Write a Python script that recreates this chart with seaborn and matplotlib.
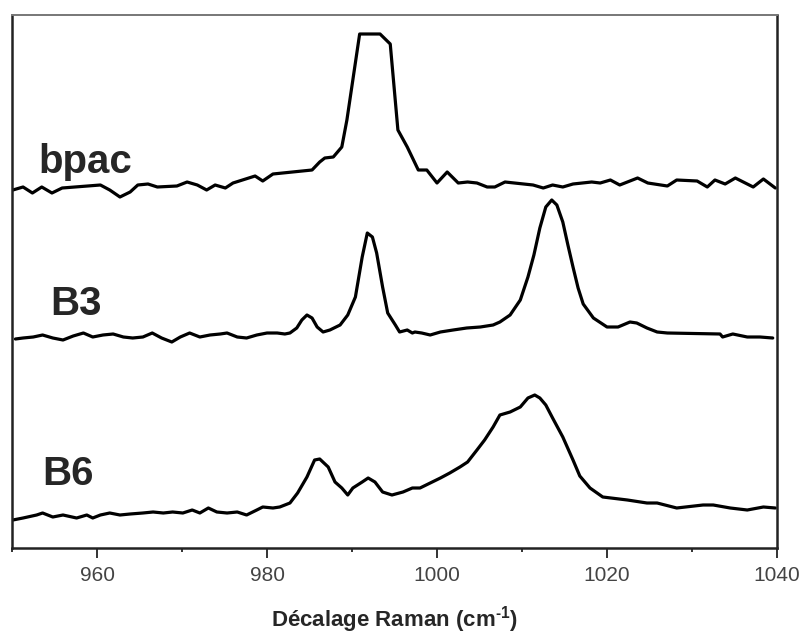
import pandas as pd
import matplotlib
matplotlib.use("Agg")
import matplotlib.pyplot as plt
import seaborn as sns

# -------------------------
# DATA (offset spectra, a.u.)
# -------------------------
bpac_x = [950.1, 951.3, 952.4, 953.5, 954.7, 955.9, 960.4, 961.5, 962.7, 963.9,
          964.8, 966.0, 967.1, 969.4, 970.6, 971.8, 972.9, 973.9, 975.1, 976.0,
          978.6, 979.5, 980.7, 985.3, 986.2, 986.8, 987.8, 988.8, 989.4, 990.9,
          993.3, 994.5, 995.4, 996.5, 997.8, 998.8, 1000.0, 1001.2, 1002.5, 1003.6,
          1004.7, 1005.9, 1006.8, 1008.0, 1011.3, 1012.5, 1013.6, 1014.8, 1016.0, 1018.2,
          1019.2, 1020.4, 1021.5, 1023.6, 1024.8, 1027.1, 1028.2, 1030.6, 1031.8, 1032.7,
          1033.9, 1035.1, 1037.2, 1038.4, 1039.8]
bpac_y = [358, 361, 355, 361, 355, 360, 363, 358, 351, 356,
          363, 364, 361, 362, 366, 363, 358, 363, 360, 365,
          372, 367, 374, 378, 386, 390, 391, 401, 428, 514,
          514, 504, 418, 401, 378, 378, 365, 376, 365, 366,
          365, 361, 361, 366, 363, 360, 363, 361, 364, 366,
          365, 368, 363, 370, 365, 362, 368, 367, 361, 368,
          364, 370, 361, 369, 360]

b3_x = [950.4, 951.3, 952.5, 953.6, 954.8, 956.0, 957.2, 958.4, 959.5, 960.7,
        961.9, 963.1, 964.2, 965.4, 966.5, 967.6, 968.8, 969.8, 970.9, 972.1,
        973.3, 974.5, 975.3, 976.5, 977.6, 978.8, 980.0, 981.2, 982.1, 982.7,
        983.5, 984.1, 984.7, 985.3, 985.9, 986.6, 987.4, 988.6, 989.5, 990.4,
        991.2, 991.8, 992.4, 992.9, 993.6, 994.2, 995.1, 995.6, 996.5, 997.1,
        997.4, 998.2, 999.2, 1000.4, 1001.9, 1003.5, 1005.1, 1006.6, 1007.4, 1008.6,
        1009.8, 1010.7, 1011.4, 1012.1, 1012.8, 1013.5, 1014.1, 1014.8, 1015.4, 1016.0,
        1016.6, 1017.2, 1018.4, 1020.0, 1021.3, 1022.7, 1023.5, 1024.7, 1025.9, 1027.1,
        1033.3, 1033.6, 1034.8, 1036.5, 1038.0, 1039.5]
b3_y = [209, 210, 211, 213, 210, 208, 212, 215, 211, 213,
        214, 211, 210, 211, 215, 210, 206, 211, 215, 211,
        213, 214, 215, 211, 210, 213, 215, 215, 214, 215,
        220, 228, 233, 230, 221, 216, 218, 223, 233, 251,
        291, 315, 311, 295, 261, 235, 223, 216, 218, 215,
        216, 215, 213, 216, 218, 220, 221, 223, 226, 233,
        248, 271, 293, 320, 341, 348, 343, 326, 303, 281,
        260, 244, 230, 221, 221, 226, 225, 220, 216, 215,
        214, 211, 214, 211, 211, 210]

b6_x = [950.1, 951.3, 952.9, 953.6, 954.8, 956.0, 957.6, 958.8, 959.5, 960.4,
        961.5, 962.7, 963.9, 965.4, 966.6, 967.8, 968.9, 970.1, 971.2, 972.1,
        973.1, 974.1, 975.3, 976.5, 977.6, 978.8, 979.5, 980.7, 981.5, 982.7,
        983.6, 984.7, 985.6, 986.2, 987.2, 988.0, 988.8, 989.5, 990.1, 991.2,
        991.9, 992.7, 993.6, 994.7, 996.0, 997.1, 998.0, 999.2, 1000.4, 1001.5,
        1002.7, 1003.6, 1004.7, 1005.6, 1006.6, 1007.4, 1008.6, 1009.8, 1010.7, 1011.5,
        1012.1, 1012.8, 1013.6, 1014.8, 1016.0, 1016.8, 1018.0, 1019.5, 1022.4, 1024.7,
        1025.9, 1028.2, 1031.3, 1032.5, 1034.5, 1036.5, 1038.4, 1039.8]
b6_y = [28, 30, 33, 35, 31, 33, 30, 33, 30, 33,
        35, 33, 34, 35, 36, 35, 36, 35, 38, 35,
        40, 36, 35, 36, 33, 38, 41, 40, 41, 45,
        55, 71, 88, 89, 81, 66, 60, 53, 60, 66,
        70, 66, 56, 53, 56, 60, 60, 65, 70, 75,
        81, 86, 98, 108, 121, 133, 136, 141, 150, 153,
        150, 143, 130, 111, 88, 72, 60, 51, 48, 45,
        45, 40, 43, 43, 40, 38, 41, 40]

samples = ["bpac", "B3", "B6"]
label_x = [953.1, 954.5, 953.5]
label_y = [375, 233, 63]

xticks = [960, 980, 1000, 1020, 1040]
minor_ticks = [950, 970, 990, 1010, 1030]

# -------------------------
# PLOT
# -------------------------
sns.set_style("ticks")
plt.rcParams["font.family"] = ["Liberation Sans", "DejaVu Sans"]
plt.rcParams["mathtext.fontset"] = "custom"
plt.rcParams["mathtext.rm"] = "Liberation Sans:bold"
plt.rcParams["mathtext.bf"] = "Liberation Sans:bold"

frames = []
for name, xs, ys in zip(samples, [bpac_x, b3_x, b6_x], [bpac_y, b3_y, b6_y]):
    frames.append(pd.DataFrame({"shift": xs, "intensity": ys, "sample": name}))
df = pd.concat(frames, ignore_index=True)

fig = plt.figure(figsize=(8.07, 6.35), dpi=100)
ax = fig.add_axes([12 / 807, 1 - 548 / 635, 765 / 807, 533 / 635])

sns.lineplot(data=df, x="shift", y="intensity", hue="sample", units="sample",
             estimator=None, sort=False, palette=["black"] * 3, legend=False,
             linewidth=2.3, ax=ax)

for name, tx, ty in zip(samples, label_x, label_y):
    ax.text(tx, ty, name, fontsize=29, fontweight="bold", ha="left", va="baseline")

ax.set_xlim(950, 1040)
ax.set_ylim(0, 533)
ax.set_xticks(xticks)
ax.set_xticks(minor_ticks, minor=True)
ax.set_yticks([])
ax.set_ylabel("")
ax.tick_params(axis="x", which="major", direction="out", length=7, width=1.4,
               labelsize=15, labelcolor="#444444", color="#333333", pad=6)
ax.tick_params(axis="x", which="minor", direction="out", length=3, width=1.4,
               color="#333333")
ax.set_xlabel(r"Décalage Raman (cm$^{\text{-1}}$)", fontsize=16, fontweight="bold",
              labelpad=14)

for s in ["left", "right", "bottom"]:
    ax.spines[s].set_linewidth(1.8)
    ax.spines[s].set_color("#222222")
ax.spines["top"].set_linewidth(1.4)
ax.spines["top"].set_color("#777777")

fig.savefig("out.png", dpi=100)
